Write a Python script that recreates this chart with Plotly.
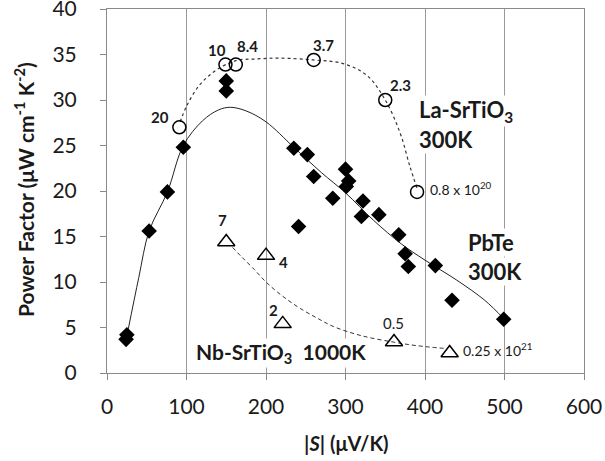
import plotly.graph_objects as go

# PbTe 300K (filled diamonds)
pbte_s = [25, 24, 53, 76, 96, 150, 150, 235, 252, 260, 241, 284, 300, 304, 301, 320, 322, 342, 367, 375, 379, 413, 434, 499]
pbte_pf = [4.2, 3.7, 15.6, 19.9, 24.8, 32.1, 31.0, 24.7, 24.0, 21.6, 16.1, 19.2, 22.4, 21.1, 20.5, 17.2, 18.9, 17.4, 15.2, 13.1, 11.7, 11.8, 8.0, 5.9]
# PbTe fit line
pbte_fit_s = [26, 40, 53, 76, 96, 120, 140, 155, 175, 200, 235, 270, 300, 335, 370, 400, 440, 475, 500]
pbte_fit_pf = [4.5, 10.5, 15.6, 19.9, 25.0, 27.7, 28.9, 29.2, 28.8, 27.6, 24.8, 22.0, 19.8, 16.8, 14.2, 12.4, 10.2, 8.0, 5.9]

# La-SrTiO3 300K (open circles)
la_s = [91, 149, 162, 260, 350, 390]
la_pf = [27.0, 33.9, 33.9, 34.4, 30.0, 19.9]
la_fit_s = [92, 100, 115, 130, 145, 155, 165, 185, 215, 260, 297, 327, 350, 369, 381, 390]
la_fit_pf = [27.6, 29.3, 31.5, 32.8, 33.7, 34.1, 34.4, 34.5, 34.6, 34.4, 34.0, 32.7, 30.0, 26.3, 22.7, 20.3]

# Nb-SrTiO3 1000K (open triangles)
nb_s = [150, 200, 221, 361, 431]
nb_pf = [14.4, 12.9, 5.4, 3.4, 2.2]
nb_fit_s = [158, 170, 185, 200, 220, 243, 265, 285, 320, 360, 390, 425]
nb_fit_pf = [13.8, 12.7, 11.4, 10.0, 8.5, 7.1, 6.0, 5.1, 4.1, 3.4, 3.0, 2.7]

x_ticks = [0, 100, 200, 300, 400, 500, 600]
y_ticks = [0, 5, 10, 15, 20, 25, 30, 35, 40]

FONT = "Lato"
TXT = "#1a1a1a"

fig = go.Figure()
fig.add_trace(go.Scatter(x=pbte_fit_s, y=pbte_fit_pf, mode="lines",
                         line=dict(color="#222", width=1, shape="spline", smoothing=1.0), hoverinfo="skip"))
fig.add_trace(go.Scatter(x=la_fit_s, y=la_fit_pf, mode="lines",
                         line=dict(color="#333", width=1.2, dash="dot", shape="spline", smoothing=1.0), hoverinfo="skip"))
fig.add_trace(go.Scatter(x=nb_fit_s, y=nb_fit_pf, mode="lines",
                         line=dict(color="#333", width=1, dash="4px,3px", shape="spline", smoothing=1.0), hoverinfo="skip"))
fig.add_trace(go.Scatter(x=pbte_s, y=pbte_pf, mode="markers",
                         marker=dict(symbol="diamond", size=12, color="black", line=dict(width=0))))
fig.add_trace(go.Scatter(x=la_s, y=la_pf, mode="markers",
                         marker=dict(symbol="circle-open", size=13, color="black", line=dict(width=1.5, color="black"))))
fig.add_trace(go.Scatter(x=nb_s, y=nb_pf, mode="markers",
                         marker=dict(symbol="triangle-up-open", size=15, color="black", line=dict(width=1.5, color="black"))))

ann = []
def t(x, y, text, size=15, bold=False, xanchor="center", bg=None):
    s = f"<b>{text}</b>" if bold else text
    d = dict(x=x, y=y, xref="x", yref="y", text=s, showarrow=False,
             xanchor=xanchor, yanchor="middle",
             font=dict(family=FONT, size=size, color=TXT), borderpad=0)
    if bg:
        d["bgcolor"] = bg
    ann.append(d)

t(138, 35.5, "10", bold=True)
t(177, 35.9, "8.4", bold=True)
t(272, 36.05, "3.7", bold=True)
t(368.6, 31.65, "2.3", bold=True)
t(66.7, 28.1, "20", bold=True)
t(405, 20.3, "0.8 x 10<sup>20</sup>", size=14, xanchor="left")
t(145.4, 16.8, "7", bold=True)
t(221.8, 12.2, "4", bold=True)
t(210, 6.9, "2", bold=True)
t(360, 5.45, "0.5")
t(447, 2.6, "0.25 x 10<sup>21</sup>", size=14, xanchor="left")

t(391, 28.8, "La-SrTiO<sub>3</sub>", size=22, bold=True, xanchor="left", bg="white")
t(391, 25.65, "300K", size=22, bold=True, xanchor="left", bg="white")
t(453, 14.3, "PbTe", size=22, bold=True, xanchor="left", bg="white")
t(453, 11.15, "300K", size=22, bold=True, xanchor="left", bg="white")
t(111, 2.2, "Nb-SrTiO<sub>3</sub>  1000K", size=21, bold=True, xanchor="left", bg="white")

# axis titles
ann.append(dict(x=0.502, y=0, xref="paper", yref="paper", yanchor="middle", yshift=-70,
                text="<b><i>|S|</i> (μV/K)</b>", showarrow=False,
                font=dict(family=FONT, size=20, color=TXT)))
ann.append(dict(x=0, y=0.503, xref="paper", yref="paper", xanchor="center", xshift=-83,
                text="<b>Power Factor (μW cm<sup>-1</sup> K<sup>-2</sup>)</b>", showarrow=False,
                textangle=-90, font=dict(family=FONT, size=21, color=TXT)))

fig.update_layout(
    width=605, height=461,
    margin=dict(l=107, r=21, t=9, b=88, autoexpand=False),
    paper_bgcolor="white", plot_bgcolor="white",
    showlegend=False,
    annotations=ann,
    font=dict(family=FONT, color=TXT),
)
fig.update_xaxes(range=[0, 600], tickvals=x_ticks, ticktext=[str(v) for v in x_ticks],
                 showgrid=True, gridcolor="#9a9a9a", gridwidth=1,
                 showline=True, linecolor="#8a8a8a", linewidth=1, mirror=True,
                 ticks="outside", ticklen=6, tickcolor="#8a8a8a",
                 tickfont=dict(family=FONT, size=21, color=TXT), ticklabelstandoff=9,
                 ticklabeloverflow="allow", automargin=False, zeroline=False)
fig.update_yaxes(range=[0, 40], tickvals=y_ticks, ticktext=[str(v) for v in y_ticks],
                 showgrid=False,
                 showline=True, linecolor="#8a8a8a", linewidth=1, mirror=True,
                 ticks="outside", ticklen=6, tickcolor="#8a8a8a",
                 tickfont=dict(family=FONT, size=21, color=TXT), ticklabelstandoff=19,
                 ticklabeloverflow="allow", automargin=False, zeroline=False)

fig.write_html("out.html")
